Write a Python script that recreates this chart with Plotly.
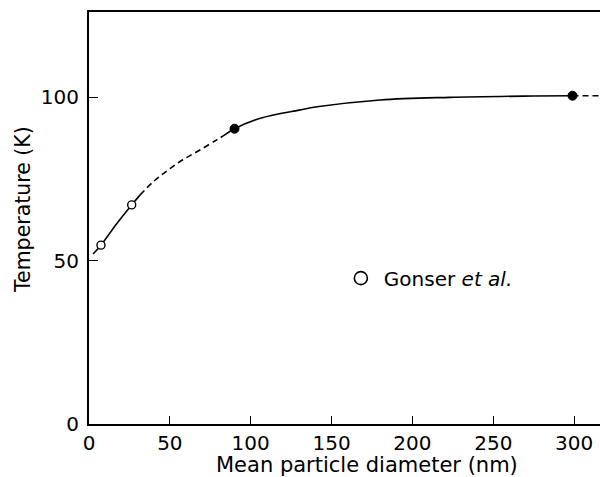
import plotly.graph_objects as go

# Data
open_x = [7.4, 26.4]
open_y = [54.7, 67.0]
filled_x = [90.0, 299.0]
filled_y = [90.3, 100.4]

solid1_x = [2.5, 7.4, 17, 26.4, 31.5]
solid1_y = [52.0, 54.7, 61.2, 67.0, 70.0]
dash1_x = [31.5, 40, 49, 58, 68.6, 79, 83]
dash1_y = [70.0, 74.2, 77.7, 80.8, 83.8, 86.9, 88.1]
solid2_x = [83, 90, 106, 130, 141, 180, 223, 275, 299]
solid2_y = [88.1, 90.3, 93.5, 96.0, 97.0, 99.1, 99.9, 100.3, 100.4]
dash2_x = [299, 316]
dash2_y = [100.4, 100.4]

x_ticks = [0, 50, 100, 150, 200, 250, 300]
y_ticks = [0, 50, 100]

FONT = "DejaVu Sans"
line = dict(color="black", width=1.6, shape="spline")
dline = dict(color="black", width=1.6, shape="spline", dash="6px,4px")

fig = go.Figure()
fig.add_trace(go.Scatter(x=solid1_x, y=solid1_y, mode="lines", line=line, showlegend=False))
fig.add_trace(go.Scatter(x=dash1_x, y=dash1_y, mode="lines", line=dline, showlegend=False))
fig.add_trace(go.Scatter(x=solid2_x, y=solid2_y, mode="lines", line=line, showlegend=False))
fig.add_trace(go.Scatter(x=dash2_x, y=dash2_y, mode="lines", line=dline, showlegend=False))
fig.add_trace(go.Scatter(x=open_x, y=open_y, mode="markers",
                         marker=dict(symbol="circle", size=8, color="white",
                                     line=dict(color="black", width=1.4)),
                         showlegend=False))
fig.add_trace(go.Scatter(x=filled_x, y=filled_y, mode="markers",
                         marker=dict(symbol="circle", size=9, color="black",
                                     line=dict(color="black", width=1)),
                         showlegend=False))
# legend-only key
fig.add_trace(go.Scatter(x=[None], y=[None], mode="markers",
                         marker=dict(symbol="circle-open", size=13, color="black",
                                     line=dict(color="black", width=1.6)),
                         name="Gonser <i>et al.</i>", showlegend=True))

fig.update_layout(
    width=600, height=477,
    margin=dict(l=89, r=0, t=12, b=53, autoexpand=False),
    paper_bgcolor="white", plot_bgcolor="white",
    font=dict(family=FONT, size=20, color="black"),
    legend=dict(x=0.487, y=0.354, xanchor="left", yanchor="middle",
                itemwidth=36,
                bgcolor="rgba(0,0,0,0)", font=dict(family=FONT, size=20)),
    xaxis=dict(range=[0, 316], tickvals=x_ticks, ticks="inside", ticklen=8,
               tickwidth=1.2, tickcolor="black", showline=True, linecolor="black",
               linewidth=2, mirror=True, showgrid=False, zeroline=False,
               automargin=False,
               tickfont=dict(family=FONT, size=20), ticklabelstandoff=0),
    yaxis=dict(range=[0, 126], tickvals=y_ticks, ticks="inside", ticklen=9,
               tickwidth=1.2, tickcolor="black", showline=True, linecolor="black",
               linewidth=2, mirror=False, showgrid=False, zeroline=False,
               automargin=False,
               tickfont=dict(family=FONT, size=20), ticklabelstandoff=4),
    annotations=[
        dict(text="Mean particle diameter (nm)", xref="paper", yref="paper",
             x=(367 - 89) / 511, y=0, yshift=-40.5, xanchor="center",
             yanchor="middle", showarrow=False,
             font=dict(family=FONT, size=21)),
        dict(text="Temperature (K)", xref="paper", yref="paper",
             x=0, xshift=-66, y=(424 - 210) / 412, xanchor="center",
             yanchor="middle", textangle=-90, showarrow=False,
             font=dict(family=FONT, size=20.5)),
    ],
)

# remove the default 8px page margin so the 600x477 figure fills the window exactly
fig.write_html("out.html",
               config={"displayModeBar": False},
               post_script="document.body.style.margin='0';document.body.style.overflow='hidden';")
